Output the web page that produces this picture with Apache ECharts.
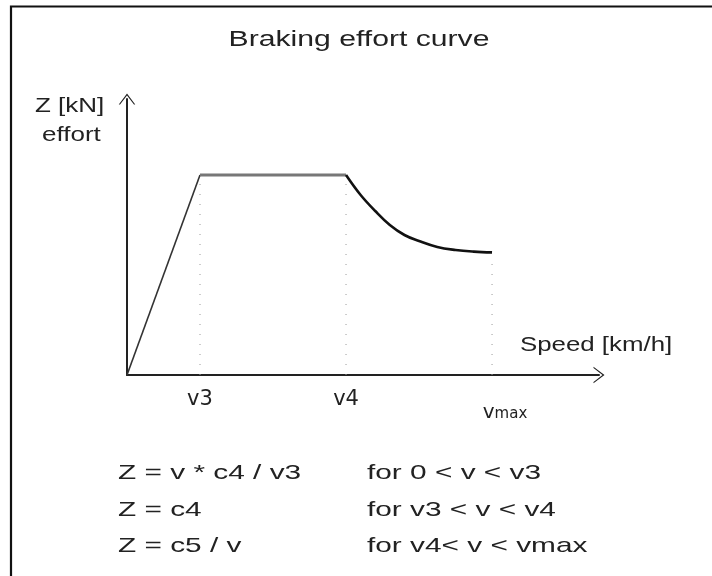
<!DOCTYPE html>
<html>
<head>
<meta charset="utf-8">
<script src="https://cdn.jsdelivr.net/npm/echarts@6/dist/echarts.min.js"></script>
<style>
  html, body { margin: 0; padding: 0; background: #fff; }
  #chart { width: 712px; height: 576px; }
</style>
</head>
<body>
<div id="chart"></div>
<script>
// ramp 0 -> v3, plateau v3 -> v4, hyperbola v4 -> vmax
const rampSpeed = [0, 20];
const rampEffort = [0, 100];
const flatSpeed = [20, 60];
const flatEffort = [100, 100];
const curveSpeed = [60, 64, 68, 72, 76, 80, 85, 90, 95, 100];
const curveEffort = [100, 90, 82, 75, 70, 67, 64, 62.5, 61.7, 61.3];

// dotted guides (speed, top of guide)
const guideSpeed = [20, 60, 100];
const guideTop = [100, 100, 56];

// x tick labels
const tickSpeed = [20, 60, 100];
const tickName = ["v3", "v4", "{v|v}{sub|max}"];

const formulaLeft = ["Z = v * c4 / v3", "Z = c4", "Z = c5 / v"];
const formulaRight = ["for 0 < v < v3", "for v3 < v < v4", "for v4< v < vmax"];

const FONT = "Liberation Sans, Arial, sans-serif";
const TICKFONT = "DejaVu Sans, sans-serif";
const TXT = "#222";

function pairs(xs, ys) {
  return xs.map((x, i) => [x, ys[i]]);
}

// the source picture is stretched sideways, so text gets a scaleX
function label(text, x, y, size, sx, align) {
  return {
    type: "text",
    x: x, y: y,
    scaleX: sx,
    style: {
      text: text, x: 0, y: 0,
      font: size + "px " + FONT,
      fill: TXT,
      align: align || "left",
      verticalAlign: "top",
    },
  };
}

const chevron = "path://M0,12 L9,0 L18,12 L16.6,12 L9,2.2 L1.4,12 Z";

const series = [
  {
    type: "line",
    data: pairs(rampSpeed, rampEffort),
    symbol: "none",
    lineStyle: { color: "#333", width: 1.6 },
    z: 3,
  },
  {
    type: "line",
    data: pairs(flatSpeed, flatEffort),
    symbol: "none",
    lineStyle: { color: "#777", width: 3 },
    z: 3,
  },
  {
    type: "line",
    data: pairs(curveSpeed, curveEffort),
    symbol: "none",
    smooth: 0.4,
    lineStyle: { color: "#111", width: 2.6 },
    z: 3,
  },
];

guideSpeed.forEach((s, i) => {
  series.push({
    type: "line",
    data: [[s, 0], [s, guideTop[i]]],
    symbol: "none",
    lineStyle: { color: "#999", width: 1, type: [1, 9] },
    z: 2,
  });
});

const graphic = [
  {
    type: "rect",
    shape: { x: 11, y: 6.5, width: 800, height: 700 },
    style: { fill: "none", stroke: "#111", lineWidth: 2.2 },
  },
  label("Braking effort curve", 359, 29, 22, 1.37, "center"),
  label("Z [kN]", 35, 96, 20, 1.3),
  label("effort", 42, 125, 20, 1.3),
  label("Speed [km/h]", 520, 335, 21, 1.23),
];

formulaLeft.forEach((t, i) => {
  graphic.push(label(t, 118, 463 + i * 36.5, 21, 1.42));
  graphic.push(label(formulaRight[i], 367, 463 + i * 36.5, 21, 1.42));
});

const chart = echarts.init(document.getElementById("chart"));
chart.setOption({
  backgroundColor: "#fff",
  animation: false,
  grid: { left: 127, right: 113, top: 99, bottom: 201 },
  xAxis: {
    type: "value",
    min: 0,
    max: 129.3,
    interval: 20,
    splitLine: { show: false },
    axisTick: { show: false },
    axisLine: {
      lineStyle: { color: "#222", width: 2 },
      symbol: ["none", chevron],
      symbolSize: [18, 11],
    },
    axisLabel: {
      showMaxLabel: false,
      margin: 14,
      fontFamily: TICKFONT,
      fontSize: 21,
      color: TXT,
      formatter: (v) => {
        const i = tickSpeed.indexOf(v);
        return i < 0 ? "" : tickName[i];
      },
      rich: {
        v: { fontFamily: TICKFONT, fontSize: 20, color: TXT, padding: [14, 0, 0, 26] },
        sub: { fontFamily: TICKFONT, fontSize: 15, color: TXT, padding: [17, 0, 0, 0] },
      },
    },
  },
  yAxis: {
    type: "value",
    min: 0,
    max: 138,
    splitLine: { show: false },
    axisTick: { show: false },
    axisLabel: { show: false },
    axisLine: {
      lineStyle: { color: "#222", width: 2 },
      symbol: ["none", chevron],
      symbolSize: [18, 11],
    },
  },
  graphic: graphic,
  series: series,
});
</script>
</body>
</html>
